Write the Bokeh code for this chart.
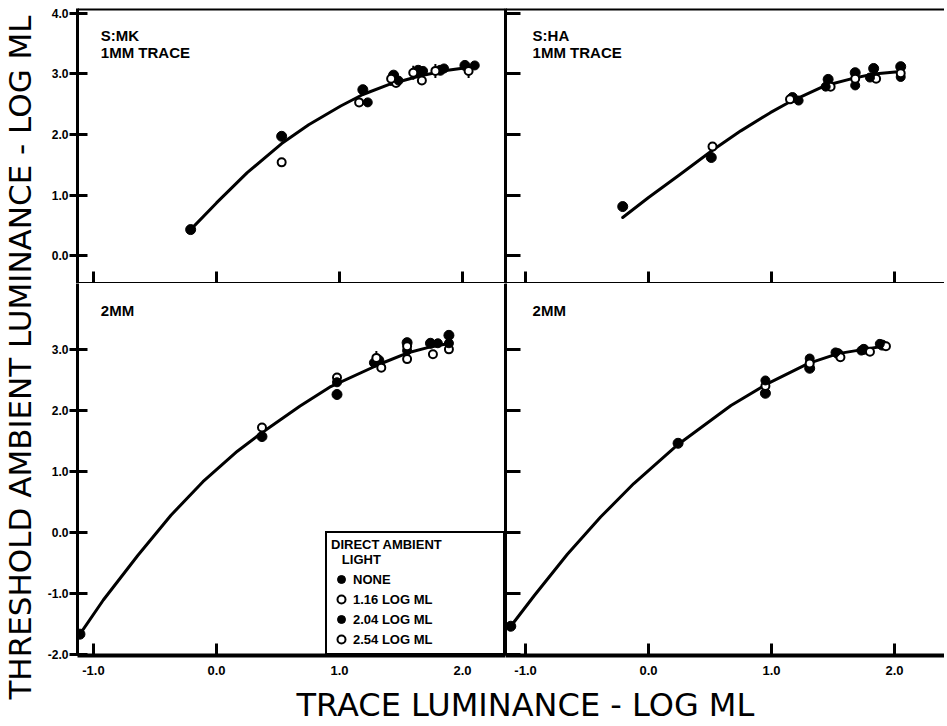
import math
from bokeh.plotting import figure
from bokeh.layouts import row, column
from bokeh.models import (Range1d, Label, Legend, LegendItem, Span, FixedTicker,
                          PrintfTickFormatter, CustomLabelingPolicy)
from bokeh.embed import file_html
from bokeh.resources import INLINE

# ---------------- data ----------------
series_names = ["NONE", "1.16 LOG ML", "2.04 LOG ML", "2.54 LOG ML"]
x_ticks = [-1.0, 0.0, 1.0, 2.0]
y_ticks_top = [0.0, 1.0, 2.0, 3.0, 4.0]
y_ticks_bottom = [-2.0, -1.0, 0.0, 1.0, 2.0, 3.0]

panel_titles = ["S:MK\n1MM TRACE", "S:HA\n1MM TRACE", "2MM", "2MM"]

# top-left  S:MK 1MM
tl_none_x = [-0.21, 0.53, 1.19, 1.44, 1.64, 1.82, 2.02]
tl_none_y = [0.43, 1.97, 2.74, 2.98, 3.06, 3.06, 3.14]
tl_116_x = [0.53, 1.16, 1.46, 1.67]
tl_116_y = [1.54, 2.53, 2.85, 2.89]
tl_204_x = [1.23, 1.48, 1.68, 1.85, 2.10]
tl_204_y = [2.53, 2.89, 3.05, 3.09, 3.14]
tl_254_x = [1.42, 1.60, 1.78, 2.05]
tl_254_y = [2.92, 3.02, 3.05, 3.05]
tl_curve_x = [-0.21, 0.0, 0.25, 0.53, 0.75, 1.01, 1.19, 1.41, 1.66, 1.88, 2.09]
tl_curve_y = [0.43, 0.87, 1.37, 1.85, 2.16, 2.47, 2.66, 2.83, 2.97, 3.06, 3.12]

# top-right  S:HA 1MM
tr_none_x = [-0.21, 0.51, 1.17, 1.46, 1.68, 1.83, 2.05]
tr_none_y = [0.81, 1.62, 2.61, 2.91, 3.02, 3.09, 3.12]
tr_116_x = [0.52, 1.15, 1.48, 1.85]
tr_116_y = [1.80, 2.58, 2.79, 2.92]
tr_204_x = [1.22, 1.44, 1.68, 1.80, 2.05]
tr_204_y = [2.56, 2.79, 2.81, 2.94, 2.95]
tr_254_x = [1.68, 2.05]
tr_254_y = [2.92, 3.01]
tr_curve_x = [-0.21, 0.0, 0.25, 0.52, 0.75, 0.99, 1.15, 1.44, 1.67, 1.83, 2.05]
tr_curve_y = [0.63, 0.96, 1.33, 1.74, 2.06, 2.36, 2.54, 2.81, 2.93, 3.00, 3.04]

# bottom-left  2MM
bl_none_x = [-1.11, 0.37, 0.98, 1.32, 1.55, 1.74, 1.89]
bl_none_y = [-1.67, 1.57, 2.26, 2.82, 3.11, 3.10, 3.23]
bl_116_x = [0.37, 0.98, 1.34, 1.55, 1.76, 1.89]
bl_116_y = [1.72, 2.54, 2.70, 2.84, 2.92, 3.00]
bl_204_x = [0.98, 1.28, 1.55, 1.80, 1.89]
bl_204_y = [2.46, 2.78, 2.98, 3.10, 3.10]
bl_254_x = [1.30, 1.55]
bl_254_y = [2.86, 3.05]
bl_curve_x = [-1.11, -0.92, -0.64, -0.37, -0.11, 0.17, 0.36, 0.68, 0.92, 1.33, 1.55, 1.74, 1.90]
bl_curve_y = [-1.67, -1.11, -0.38, 0.28, 0.83, 1.33, 1.62, 2.07, 2.38, 2.76, 2.94, 3.04, 3.10]

# bottom-right  2MM
br_none_x = [-1.12, 0.24, 0.95, 1.31, 1.54, 1.75, 1.90]
br_none_y = [-1.54, 1.46, 2.28, 2.69, 2.93, 3.00, 3.07]
br_116_x = [0.95, 1.56, 1.80, 1.93]
br_116_y = [2.40, 2.87, 2.96, 3.05]
br_204_x = [0.95, 1.31, 1.52, 1.73, 1.88]
br_204_y = [2.49, 2.85, 2.95, 2.98, 3.09]
br_254_x = [1.31]
br_254_y = [2.77]
br_curve_x = [-1.12, -0.93, -0.66, -0.39, -0.12, 0.24, 0.67, 0.96, 1.30, 1.54, 1.75, 1.91]
br_curve_y = [-1.54, -1.04, -0.36, 0.25, 0.80, 1.44, 2.08, 2.43, 2.77, 2.93, 3.00, 3.05]

y_title = "THRESHOLD AMBIENT LUMINANCE - LOG ML"
x_title = "TRACE  LUMINANCE - LOG ML"
legend_title = "DIRECT AMBIENT\n   LIGHT"

# ---------------- layout constants ----------------
FONT = "Liberation Sans"
BIG_FONT = "DejaVu Sans"
LEFT_W, RIGHT_W = 428, 439
TOP_H, BOT_H = 275, 372
TB = 8           # top border of top panels
LB = 33          # left border of left panels
BB = 28          # bottom border of bottom panels
YLAB_W = 44
XLAB_H = 40

x_left = (-1.13, 2.35)
x_right = (-1.163, 2.406)
y_top = (-0.46, 4.08)
y_bot = (-2.02, 4.08)

HIDE = "for (const i of indices) indices.unset(i)"


def make_panel(xr, yr, fw, fh, left_labels, bottom_labels, top, yticks):
    w = fw + (LB if left_labels else 0)
    h = fh + (BB if bottom_labels else 0) + (TB if top else 0)
    p = figure(width=w, height=h, output_backend="svg", toolbar_location=None,
               x_range=Range1d(*xr), y_range=Range1d(*yr),
               min_border_left=LB if left_labels else 0, min_border_right=0,
               min_border_top=TB if top else 0, min_border_bottom=BB if bottom_labels else 0)
    p.outline_line_color = None
    p.xgrid.visible = False
    p.ygrid.visible = False
    p.background_fill_color = "white"
    p.border_fill_color = "white"
    p.xaxis.ticker = FixedTicker(ticks=x_ticks)
    p.yaxis.ticker = FixedTicker(ticks=yticks)
    p.xaxis.formatter = PrintfTickFormatter(format="%.1f")
    p.yaxis.formatter = PrintfTickFormatter(format="%.1f")
    for ax in (p.xaxis[0], p.yaxis[0]):
        ax.axis_line_color = "black"
        ax.axis_line_width = 3
        ax.major_tick_line_color = "black"
        ax.major_tick_line_width = 3
        ax.minor_tick_line_color = None
        ax.major_label_text_font = FONT
        ax.major_label_text_font_style = "bold"
        ax.major_label_text_color = "black"
        ax.major_label_text_font_size = "12px"
    xa, ya = p.xaxis[0], p.yaxis[0]
    xa.major_tick_in = 12
    xa.major_tick_out = 0
    xa.axis_line_width = 4 if bottom_labels else 3
    if bottom_labels:
        xa.major_label_standoff = 10
        xa.major_label_text_font_size = "13px"
    else:
        xa.major_label_text_font_size = "0px"
        xa.major_label_standoff = 0
        xa.major_label_policy = CustomLabelingPolicy(code=HIDE)
    if left_labels:
        ya.major_tick_in = 10
        ya.major_tick_out = 8
        ya.major_label_standoff = 1
    else:
        ya.major_tick_in = 15
        ya.major_tick_out = 0
        ya.major_label_text_font_size = "0px"
        ya.major_label_standoff = 0
        ya.major_label_policy = CustomLabelingPolicy(code=HIDE)
    return p


def draw(p, cx, cy, s):
    p.line(cx, cy, line_color="black", line_width=3, line_join="round", line_cap="round")
    (nx, ny), (ox, oy), (fx, fy), (qx, qy) = s
    r_none = p.scatter(nx, ny, marker="circle", size=10, fill_color="black", line_color="black")
    r_116 = p.scatter(ox, oy, marker="circle", size=8, fill_color="white", line_color="black", line_width=2)
    r_204 = p.scatter(fx, fy, marker="circle", size=9, fill_color="black", line_color="black")
    r_254s = p.scatter(qx, qy, marker="dash", angle=math.pi / 2, size=14, line_color="black", line_width=2)
    r_254 = p.scatter(qx, qy, marker="circle", size=8, fill_color="white", line_color="black", line_width=2)
    return [r_none, r_116, r_204, [r_254s, r_254]]


def panel_text(p, xr, yr, text):
    lines = text.split("\n")
    for i, t in enumerate(lines):
        p.add_layout(Label(x=xr[0] + 0.19 if xr is x_left else xr[0] + 0.22,
                           y=yr[1] - 0.30 - i * 0.29 if yr is y_top else yr[1] - 0.30,
                           text=t, text_font=FONT, text_font_style="bold",
                           text_font_size="15px", text_color="black",
                           text_baseline="top", text_align="left"))


p1 = make_panel(x_left, y_top, LEFT_W, TOP_H, True, False, True, y_ticks_top)
p2 = make_panel(x_right, y_top, RIGHT_W, TOP_H, False, False, True, y_ticks_top)
p3 = make_panel(x_left, y_bot, LEFT_W, BOT_H, True, True, False, y_ticks_bottom)
p4 = make_panel(x_right, y_bot, RIGHT_W, BOT_H, False, True, False, y_ticks_bottom)

draw(p1, tl_curve_x, tl_curve_y, [(tl_none_x, tl_none_y), (tl_116_x, tl_116_y), (tl_204_x, tl_204_y), (tl_254_x, tl_254_y)])
draw(p2, tr_curve_x, tr_curve_y, [(tr_none_x, tr_none_y), (tr_116_x, tr_116_y), (tr_204_x, tr_204_y), (tr_254_x, tr_254_y)])
rs = draw(p3, bl_curve_x, bl_curve_y, [(bl_none_x, bl_none_y), (bl_116_x, bl_116_y), (bl_204_x, bl_204_y), (bl_254_x, bl_254_y)])
draw(p4, br_curve_x, br_curve_y, [(br_none_x, br_none_y), (br_116_x, br_116_y), (br_204_x, br_204_y), (br_254_x, br_254_y)])

for p, xr, yr, t in ((p1, x_left, y_top, panel_titles[0]), (p2, x_right, y_top, panel_titles[1]),
                     (p3, x_left, y_bot, panel_titles[2]), (p4, x_right, y_bot, panel_titles[3])):
    panel_text(p, xr, yr, t)

for p, yr in ((p1, y_top), (p2, y_top)):
    p.add_layout(Span(location=yr[1], dimension="width", line_color="black", line_width=4))
p1.add_layout(Span(location=x_left[1], dimension="height", line_color="black", line_width=3))
p3.add_layout(Span(location=x_left[1], dimension="height", line_color="black", line_width=3))

items = []
for name, r in zip(series_names, rs):
    items.append(LegendItem(label=name, renderers=r if isinstance(r, list) else [r]))
leg = Legend(items=items, location="bottom_right", title=legend_title,
             title_text_font=FONT, title_text_font_style="bold", title_text_font_size="13px",
             title_text_color="black", title_standoff=2,
             label_text_font=FONT, label_text_font_style="bold", label_text_font_size="13px",
             label_text_color="black", label_standoff=2, label_width=146, label_height=18,
             glyph_width=20, glyph_height=20, spacing=0, padding=4, margin=0,
             border_line_color="black", border_line_alpha=1.0, border_line_width=2.5,
             background_fill_color="white", background_fill_alpha=1.0)
p3.add_layout(leg)

# big axis titles
col_h = TB + TOP_H + BOT_H + BB + XLAB_H
ylab = figure(width=YLAB_W, height=col_h, output_backend="svg", toolbar_location=None,
              x_range=Range1d(0, 1), y_range=Range1d(0, 1),
              min_border_left=0, min_border_right=0, min_border_top=0, min_border_bottom=0)
ylab.axis.visible = False
ylab.grid.visible = False
ylab.outline_line_color = None
ylab.add_layout(Label(x=19 / YLAB_W, y=1 - 357 / col_h, text=y_title, angle=math.pi / 2,
                      text_font=BIG_FONT, text_font_size="31px", text_color="black",
                      text_align="center", text_baseline="middle"))

xw = LB + LEFT_W + RIGHT_W
xlab = figure(width=xw, height=XLAB_H, output_backend="svg", toolbar_location=None,
              x_range=Range1d(0, 1), y_range=Range1d(0, 1),
              min_border_left=0, min_border_right=0, min_border_top=0, min_border_bottom=0)
xlab.axis.visible = False
xlab.grid.visible = False
xlab.outline_line_color = None
xlab.add_layout(Label(x=(530 - YLAB_W) / xw, y=1 - 21 / XLAB_H, text=x_title,
                      text_font=BIG_FONT, text_font_size="32px", text_color="black",
                      text_align="center", text_baseline="middle"))

layout = row(ylab, column(row(p1, p2), row(p3, p4), xlab))
open("out.html", "w").write(file_html(layout, INLINE))
